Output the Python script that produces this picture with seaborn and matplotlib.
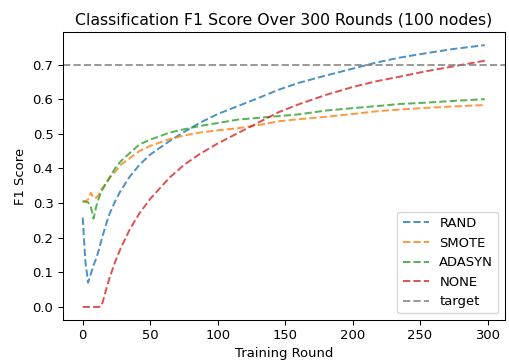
import matplotlib
matplotlib.use("Agg")
import matplotlib.pyplot as plt
import seaborn as sns

rounds = [0, 2, 4, 6, 8, 10, 12, 14, 17, 20, 24, 28, 35, 42, 50, 64, 75, 86,
          100, 115, 130, 145, 160, 180, 200, 218, 235, 255, 275, 298]

rand = [0.258, 0.13, 0.07, 0.095, 0.12, 0.14, 0.165, 0.195, 0.235, 0.27, 0.305,
        0.335, 0.377, 0.41, 0.44, 0.478, 0.505, 0.53, 0.557, 0.58, 0.603,
        0.627, 0.647, 0.668, 0.688, 0.706, 0.72, 0.733, 0.745, 0.756]
smote = [0.306, 0.305, 0.31, 0.33, 0.315, 0.315, 0.325, 0.34, 0.355, 0.372,
         0.39, 0.41, 0.43, 0.45, 0.465, 0.484, 0.495, 0.503, 0.51, 0.516,
         0.525, 0.536, 0.542, 0.549, 0.557, 0.565, 0.57, 0.575, 0.579, 0.583]
adasyn = [0.304, 0.304, 0.302, 0.29, 0.255, 0.29, 0.315, 0.335, 0.355, 0.375,
          0.4, 0.42, 0.445, 0.469, 0.483, 0.503, 0.513, 0.522, 0.531, 0.541,
          0.546, 0.551, 0.556, 0.567, 0.574, 0.58, 0.586, 0.59, 0.595, 0.6]
none = [0.0, 0.0, 0.0, 0.0, 0.0, 0.0, 0.0, 0.003, 0.045, 0.085, 0.13, 0.168,
        0.225, 0.27, 0.312, 0.372, 0.41, 0.44, 0.472, 0.502, 0.532, 0.562,
        0.585, 0.612, 0.635, 0.652, 0.665, 0.681, 0.695, 0.711]
target = 0.7

series = {'RAND': rand, 'SMOTE': smote, 'ADASYN': adasyn, 'NONE': none}
colors = sns.color_palette('tab10')

DPI = 94.3
fig, ax = plt.subplots(figsize=(509 / DPI, 360 / DPI), dpi=DPI)
fig.subplots_adjust(left=0.123, right=0.992, bottom=0.111, top=0.911)

for (name, vals), c in zip(series.items(), colors):
    sns.lineplot(x=rounds, y=vals, ax=ax, color=c, linestyle='--', alpha=0.8,
                 label=name)
ax.axhline(target, color='gray', linestyle='--', alpha=0.8, label='target')

ax.set_title('Classification F1 Score Over 300 Rounds (100 nodes)')
ax.set_xlabel('Training Round')
ax.set_ylabel('F1 Score')
ax.legend(loc='lower right')

fig.savefig('out.png', dpi=DPI)
